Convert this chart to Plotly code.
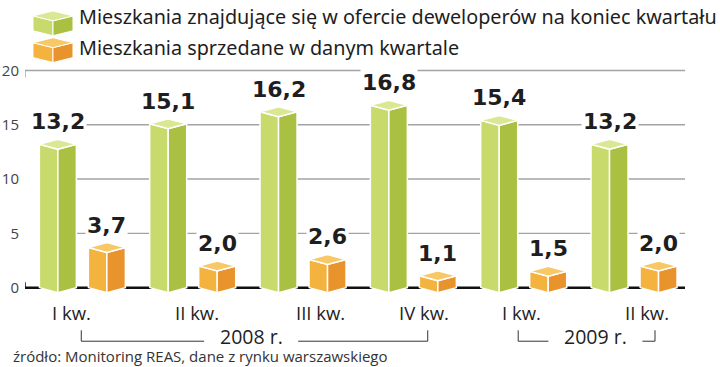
import plotly.graph_objects as go

# ---------------- data ----------------
quarters = ["I kw.", "II kw.", "III kw.", "IV kw.", "I kw.", "II kw."]
offer = [13.2, 15.1, 16.2, 16.8, 15.4, 13.2]      # Mieszkania w ofercie
sold = [3.7, 2.0, 2.6, 1.1, 1.5, 2.0]             # Mieszkania sprzedane
years = ["2008 r.", "2009 r."]
y_ticks = [0, 5, 10, 15, 20]
legend_names = ["Mieszkania znajdujące się w ofercie deweloperów na koniec kwartału",
                "Mieszkania sprzedane w danym kwartale"]
source_text = "źródło: Monitoring REAS, dane z rynku warszawskiego"

# ---------------- style ----------------
W, H = 720, 367
GREEN = dict(left="#c8da6c", right="#a9c043", top="#dbe893")
ORANGE = dict(left="#f4b23e", right="#e8932b", top="#f8c866")
TXT = "#1e1e1e"
GRID = "#a3a3a3"
SANS = "Open Sans"

X_DOM_PX = (25, 687)
X_RANGE = [-0.52, 5.48]
Y_DOM_PX = (60, 297.95)
Y_RANGE = [-1.0, 20.73]
px_per_x = (X_DOM_PX[1] - X_DOM_PX[0]) / (X_RANGE[1] - X_RANGE[0])
px_per_y = (Y_DOM_PX[1] - Y_DOM_PX[0]) / (Y_RANGE[1] - Y_RANGE[0])

off = 24.5 / px_per_x       # offset of each series from group centre
hw = 18.5 / px_per_x        # half width of prism
dep = 5.0 / px_per_y        # perspective depth

def px(xp):
    return xp / W

def py(yp):
    return 1 - yp / H

fig = go.Figure()

def prism_traces(centers, values, colors, name):
    faces = {"left": ([], []), "right": ([], []), "top": ([], [])}
    for c, v in zip(centers, values):
        polys = {
            "left": [(c - hw, 0), (c, -dep), (c, v - dep), (c - hw, v)],
            "right": [(c, -dep), (c + hw, 0), (c + hw, v), (c, v - dep)],
            "top": [(c - hw, v), (c, v - dep), (c + hw, v), (c, v + dep)],
        }
        for k, pts in polys.items():
            xs, ys = faces[k]
            xs.extend([p[0] for p in pts] + [pts[0][0], None])
            ys.extend([p[1] for p in pts] + [pts[0][1], None])
    for k in ["left", "right", "top"]:
        xs, ys = faces[k]
        fig.add_trace(go.Scatter(
            x=xs, y=ys, mode="lines", fill="toself", fillcolor=colors[k],
            line=dict(color="white", width=1.5), hoverinfo="skip",
            showlegend=False, name=name))

idx = list(range(len(quarters)))
green_x = [i - off for i in idx]
orange_x = [i + off for i in idx]
prism_traces(green_x, offer, GREEN, legend_names[0])
prism_traces(orange_x, sold, ORANGE, legend_names[1])

shapes = []
# gridlines
x_right = X_RANGE[0] + (685 - X_DOM_PX[0]) / px_per_x
x_left = X_RANGE[0]
for t in y_ticks[1:]:
    x0 = x_left if t == y_ticks[-1] else green_x[0] + hw
    shapes.append(dict(type="line", xref="x", yref="y", x0=x0, x1=x_right, y0=t, y1=t,
                       line=dict(color=GRID, width=1.4), layer="below"))
shapes.append(dict(type="line", xref="x", yref="y", x0=x_left, x1=x_left,
                   y0=y_ticks[-1], y1=y_ticks[-1] - 0.65,
                   line=dict(color=GRID, width=1.4), layer="below"))
# baseline
shapes.append(dict(type="line", xref="x", yref="y", x0=x_left, x1=x_right, y0=0, y1=0,
                   line=dict(color="#111111", width=2.5), layer="below"))
shapes.append(dict(type="line", xref="x", yref="y", x0=x_left, x1=x_left, y0=0, y1=0.5,
                   line=dict(color="#111111", width=1.5), layer="below"))

annotations = []
# value labels
for xs, vals in [(green_x, offer), (orange_x, sold)]:
    for x, v in zip(xs, vals):
        annotations.append(dict(
            x=x, y=v + dep, xref="x", yref="y", text=f"{v:.1f}".replace(".", ","),
            showarrow=False, yanchor="bottom", yshift=3, bgcolor="white", borderpad=1,
            font=dict(family="DejaVu Sans", size=22, color=TXT, weight="bold")))

# quarter labels
q_shift = [-11, 4, 17, 11, -2, 13]
for i, q in enumerate(quarters):
    annotations.append(dict(
        x=i, y=py(312), xref="x", yref="paper", text=q, showarrow=False,
        xshift=q_shift[i], yanchor="middle",
        font=dict(family=SANS, size=18.5, color=TXT)))

# year brackets
yr_text_center = [1.53, 4.65]
br_start = [-0.01, 3.95]
br_end = [3.13, 5.19]
gap = 47 / px_per_x
y_br = py(341)
y_br_top = py(330)
for k, yr in enumerate(years):
    xc = yr_text_center[k]
    a, b = br_start[k], br_end[k]
    for seg in [(a, xc - gap), (xc + gap, b)]:
        shapes.append(dict(type="line", xref="x", yref="paper", x0=seg[0], x1=seg[1],
                           y0=y_br, y1=y_br, line=dict(color="#333333", width=1)))
    for xv in (a, b):
        shapes.append(dict(type="line", xref="x", yref="paper", x0=xv, x1=xv,
                           y0=y_br, y1=y_br_top, line=dict(color="#333333", width=1)))
    annotations.append(dict(
        x=xc, y=py(336), xref="x", yref="paper", text=yr, showarrow=False,
        yanchor="middle", font=dict(family=SANS, size=19.5, color=TXT)))

# legend (cubes + text)
legend_rows = [dict(top=8, colors=GREEN, text_y=14), dict(top=35, colors=ORANGE, text_y=45)]
for row, name in zip(legend_rows, legend_names):
    x0, x1 = 33, 73
    xc = (x0 + x1) / 2
    t = row["top"]
    d = 5
    hgt = 15
    polys = {
        "left": [(x0, t + d), (xc, t + 2 * d), (xc, t + 2 * d + hgt), (x0, t + d + hgt)],
        "right": [(xc, t + 2 * d), (x1, t + d), (x1, t + d + hgt), (xc, t + 2 * d + hgt)],
        "top": [(x0, t + d), (xc, t + 2 * d), (x1, t + d), (xc, t)],
    }
    for k, pts in polys.items():
        path = "M " + " L ".join(f"{px(a):.5f},{py(b):.5f}" for a, b in pts) + " Z"
        shapes.append(dict(type="path", xref="paper", yref="paper", path=path,
                           fillcolor=row["colors"][k], line=dict(color="white", width=1)))
    annotations.append(dict(
        x=px(77), y=py(row["text_y"]), xref="paper", yref="paper", text=name,
        showarrow=False, xanchor="left", yanchor="middle",
        font=dict(family="Noto Sans", size=19.8, color=TXT)))

# source
annotations.append(dict(
    x=px(11), y=py(356), xref="paper", yref="paper", text=source_text, showarrow=False,
    xanchor="left", yanchor="middle", font=dict(family=SANS, size=15, color="#333333")))

fig.update_layout(
    width=W, height=H,
    margin=dict(l=0, r=0, t=0, b=0),
    paper_bgcolor="white", plot_bgcolor="white",
    showlegend=False,
    shapes=shapes, annotations=annotations,
    xaxis=dict(domain=[px(X_DOM_PX[0]), px(X_DOM_PX[1])], range=X_RANGE,
               showgrid=False, zeroline=False, showticklabels=False, ticks="",
               fixedrange=True),
    yaxis=dict(domain=[py(Y_DOM_PX[1]), py(Y_DOM_PX[0])], range=Y_RANGE,
               tickvals=y_ticks, ticktext=[str(t) for t in y_ticks],
               showgrid=False, zeroline=False, ticks="", ticklabelstandoff=5,
               tickfont=dict(family=SANS, size=15, color="#444444"),
               fixedrange=True),
)

fig.write_html("out.html", config={"displayModeBar": False},
               post_script="document.body.style.margin='0';document.body.style.overflow='hidden';")
